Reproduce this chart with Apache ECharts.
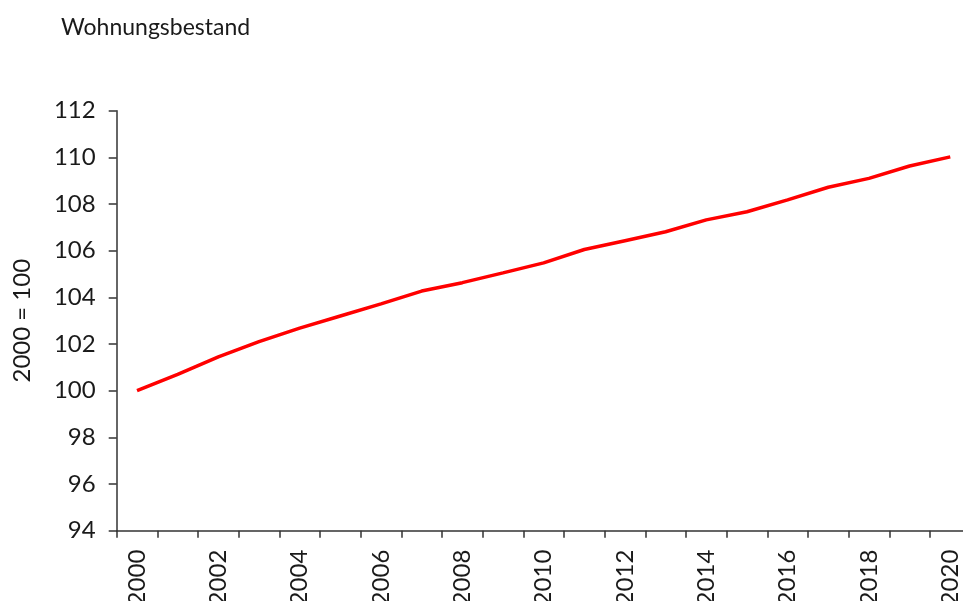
<!DOCTYPE html>
<html>
<head>
<meta charset="utf-8">
<script src="https://cdn.jsdelivr.net/npm/echarts@6/dist/echarts.min.js"></script>
<style>html,body{margin:0;padding:0;background:#fff}#c{width:963px;height:601px}</style>
</head>
<body>
<div id="c"></div>
<script>
const years = ['2000','2001','2002','2003','2004','2005','2006','2007','2008','2009','2010','2011','2012','2013','2014','2015','2016','2017','2018','2019','2020'];
const wohnungsbestand = [100, 100.7, 101.45, 102.1, 102.68, 103.2, 103.72, 104.27, 104.63, 105.05, 105.48, 106.05, 106.43, 106.81, 107.32, 107.67, 108.18, 108.72, 109.1, 109.63, 110.02];
const yTicks = {min: 94, max: 112, step: 2};
const titleText = 'Wohnungsbestand';
const yAxisName = '2000 = 100';

const FONT = 'Lato, "Noto Sans", sans-serif';
const chart = echarts.init(document.getElementById('c'), null, {renderer: 'canvas'});
chart.setOption({
  animation: false,
  backgroundColor: '#ffffff',
  title: {
    text: titleText,
    left: 56, top: 11,
    textStyle: {fontFamily: FONT, fontSize: 23, fontWeight: 'normal', color: '#1a1a1a'}
  },
  grid: {left: 116.7, top: 110.7, right: -7.6, bottom: 70.3, containLabel: false, outerBoundsMode: 'none'},
  xAxis: {
    type: 'category',
    data: years,
    boundaryGap: true,
    axisLine: {lineStyle: {color: '#333333', width: 1.5}},
    axisTick: {show: true, interval: 0, length: 7, lineStyle: {color: '#333333', width: 1.5}},
    axisLabel: {interval: 1, rotate: 90, margin: 19, fontFamily: FONT, fontSize: 24, color: '#1a1a1a'},
    splitLine: {show: false}
  },
  yAxis: {
    type: 'value',
    min: yTicks.min, max: yTicks.max, interval: yTicks.step,
    name: yAxisName,
    nameLocation: 'middle',
    nameGap: 82,
    nameRotate: 90,
    nameTextStyle: {fontFamily: FONT, fontSize: 24, color: '#1a1a1a'},
    axisLine: {show: true, lineStyle: {color: '#333333', width: 1.5}},
    axisTick: {show: true, length: 8, lineStyle: {color: '#333333', width: 1.5}},
    axisLabel: {margin: 21, fontFamily: FONT, fontSize: 24, color: '#1a1a1a'},
    splitLine: {show: false}
  },
  series: [{
    type: 'line',
    data: wohnungsbestand,
    symbol: 'none',
    lineStyle: {color: '#ff0000', width: 3.5},
    itemStyle: {color: '#ff0000'}
  }]
});
</script>
</body>
</html>
